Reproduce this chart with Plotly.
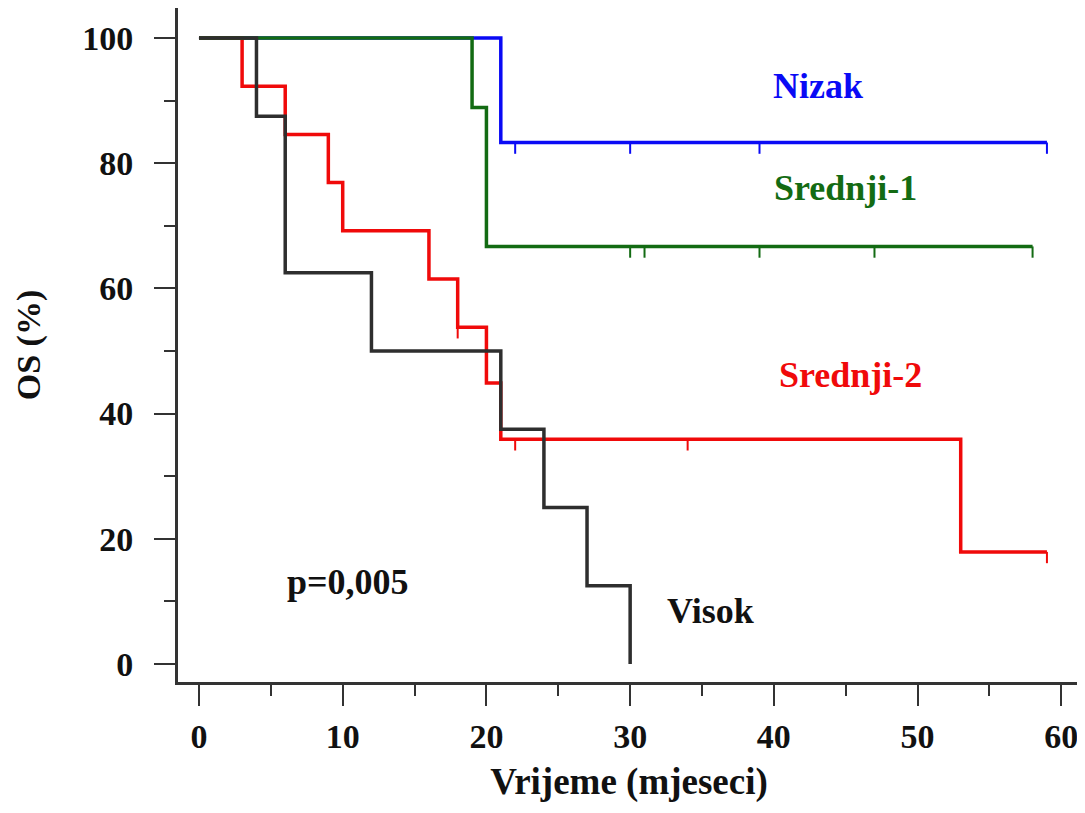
import plotly.graph_objects as go

# Kaplan-Meier OS po grupama rizika (vrijeme u mjesecima, OS u %)
nizak_t = [0, 21]
nizak_os = [100, 83.3]
nizak_kraj = 59
nizak_cenz = [22, 30, 39, 59]

srednji1_t = [0, 19, 20]
srednji1_os = [100, 88.9, 66.7]
srednji1_kraj = 58
srednji1_cenz = [30, 31, 39, 47, 58]

srednji2_t = [0, 3, 6, 9, 10, 16, 18, 20, 21, 53]
srednji2_os = [100, 92.3, 84.6, 76.9, 69.2, 61.5, 53.8, 44.9, 35.9, 17.9]
srednji2_kraj = 59
srednji2_cenz = [18, 22, 34, 59]

visok_t = [0, 4, 6, 12, 21, 24, 27, 30]
visok_os = [100, 87.5, 62.5, 50, 37.5, 25, 12.5, 0]
visok_kraj = 30
visok_cenz = []

xticks = [0, 10, 20, 30, 40, 50, 60]
yticks = [0, 20, 40, 60, 80, 100]

FONT = 'Liberation Serif'
CENS_LEN = 1.8  # duljina oznake cenzure (jedinice y osi)

grupe = [
    ('Nizak', nizak_t, nizak_os, nizak_kraj, nizak_cenz, '#0a0af5'),
    ('Srednji-2', srednji2_t, srednji2_os, srednji2_kraj, srednji2_cenz, '#f00a0a'),
    ('Srednji-1', srednji1_t, srednji1_os, srednji1_kraj, srednji1_cenz, '#136b13'),
    ('Visok', visok_t, visok_os, visok_kraj, visok_cenz, '#2e2e2e'),
]

fig = go.Figure()

for ime, t, s, kraj, cenz, boja in grupe:
    fig.add_trace(go.Scatter(
        x=t + [kraj], y=s + [s[-1]],
        mode='lines', line=dict(color=boja, width=3.5, shape='hv'),
        name=ime, showlegend=False, hoverinfo='skip'
    ))
    cx, cy = [], []
    for c in cenz:
        lev = [v for tt, v in zip(t, s) if tt <= c][-1]
        cx += [c, c, None]
        cy += [lev, lev - CENS_LEN, None]
    if cx:
        fig.add_trace(go.Scatter(
            x=cx, y=cy, mode='lines', line=dict(color=boja, width=2),
            showlegend=False, hoverinfo='skip'
        ))

oznake = [
    ('Nizak', 43.1, 92.3, '#0a0af5'),
    ('Srednji-1', 45.0, 76.0, '#136b13'),
    ('Srednji-2', 45.3, 46.2, '#f00a0a'),
    ('Visok', 35.6, 8.5, '#111111'),
    ('p=0,005', 10.4, 13.1, '#111111'),
]
for txt, x, y, boja in oznake:
    fig.add_annotation(
        text=txt, x=x, y=y, xref='x', yref='y', showarrow=False,
        font=dict(family=FONT, size=36, color=boja, weight='bold')
    )

fig.update_xaxes(
    range=[-1.46, 61.3], tickvals=xticks, showgrid=False, zeroline=False,
    showline=True, linewidth=3, linecolor='#333333',
    ticks='outside', ticklen=21, tickwidth=2, tickcolor='#333333',
    minor=dict(dtick=5, tick0=0, ticks='outside', ticklen=11, tickwidth=2,
               tickcolor='#333333', showgrid=False),
    ticklabelstandoff=1,
    tickfont=dict(family=FONT, size=34, color='#111111', weight='bold'),
    title=dict(text='Vrijeme (mjeseci)', standoff=15,
               font=dict(family=FONT, size=37, color='#111111', weight='bold'))
)
fig.update_yaxes(
    range=[-2.88, 104.79], tickvals=yticks, showgrid=False, zeroline=False,
    showline=True, linewidth=3, linecolor='#333333',
    ticks='outside', ticklen=21, tickwidth=2, tickcolor='#333333',
    minor=dict(dtick=10, tick0=0, ticks='outside', ticklen=11, tickwidth=2,
               tickcolor='#333333', showgrid=False),
    ticklabelstandoff=14,
    tickfont=dict(family=FONT, size=34, color='#111111', weight='bold'),
    title=dict(text='OS (%)', standoff=32,
               font=dict(family=FONT, size=34, color='#111111', weight='bold'))
)

# stranica ima 8px margine tijela, pa je slika pomaknuta za 8px
fig.update_layout(
    width=1077, height=805,
    margin=dict(l=170, r=5, t=0, b=131, autoexpand=False),
    paper_bgcolor='white', plot_bgcolor='white',
    showlegend=False
)

fig.write_html('out.html')
